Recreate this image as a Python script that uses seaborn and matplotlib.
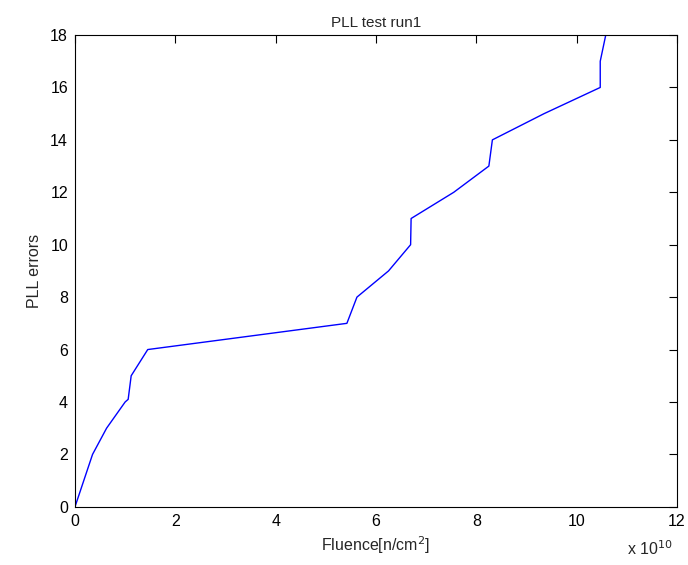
import matplotlib
matplotlib.use("Agg")
import matplotlib.pyplot as plt
import seaborn as sns
import pandas as pd

fluence = [0.0, 0.35, 0.63, 1.0, 1.06, 1.12, 1.45, 5.42, 5.62, 6.25, 6.69, 6.70,
           7.55, 8.25, 8.32, 9.35, 10.47, 10.47, 10.58]
errors = [0, 2, 3, 4, 4.1, 5, 6, 7, 8, 9, 10, 11, 12, 13, 14, 15, 16, 17, 18]

df = pd.DataFrame({"fluence": fluence, "errors": errors})

sns.set_style("white")
plt.rcParams["font.family"] = ["Liberation Sans", "DejaVu Sans"]

fig = plt.figure(figsize=(6.88, 5.65), dpi=100)
ax = fig.add_axes([0.109, 0.103, 0.875, 0.835])
sns.lineplot(data=df, x="fluence", y="errors", sort=False, estimator=None,
             color="#0000ff", linewidth=1.0, ax=ax)

ax.set_xlim(0, 12)
ax.set_ylim(0, 18)
ax.set_xticks(range(0, 13, 2))
ax.set_yticks(range(0, 19, 2))
ax.tick_params(direction="in", top=True, right=True, length=5.5, labelsize=11.5,
               colors="black", width=0.8, pad=5)
for s in ax.spines.values():
    s.set_color("black")
    s.set_linewidth(0.8)
ax.set_title("PLL test run1", fontsize=11, pad=6)
ax.set_xlabel("Fluence[n/cm$^2$]", fontsize=11.5, labelpad=4)
ax.set_ylabel("PLL errors", fontsize=11.5, labelpad=6)
fig.text(0.912, 0.012, "x 10$^{10}$", fontsize=11.5, ha="left", va="bottom")

fig.savefig("out.png", dpi=100)
